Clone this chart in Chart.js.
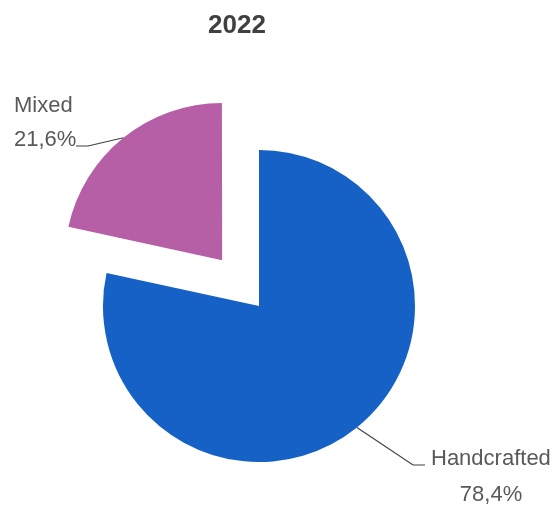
<!DOCTYPE html>
<html>
<head>
<meta charset="utf-8">
<script src="https://cdn.jsdelivr.net/npm/chart.js@4"></script>
<style>
  html, body { margin: 0; padding: 0; background: #ffffff; }
  #wrap { width: 553px; height: 506px; position: relative; }
</style>
</head>
<body>
<div id="wrap"><canvas id="c" width="553" height="506"></canvas></div>
<script>
// Share of production method, 2022
const categories = ['Handcrafted', 'Mixed'];
const shares = [78.4, 21.6];
const valueLabels = ['78,4%', '21,6%'];
const titleText = '2022';

const sliceColors = ['#1561C6', '#B65FA6'];
// Chart.js arcs move by roughly offset/4 pixels, so 235 pulls the slice ~60px out
const sliceOffsets = [0, 235];

// Label layout: elbow of the leader line, its end, and text anchors
const labelLayout = [
  { elbow: [413, 465], end: [425, 465], name: [431, 465, 'left'], value: [491, 501, 'center'] },
  { elbow: [88, 146],  end: [76, 146],  name: [14, 112, 'left'],  value: [14, 146, 'left'] }
];

const FONT = '"Liberation Sans", Arial, sans-serif';

const titlePlugin = {
  id: 'yearTitle',
  afterDraw(chart) {
    const ctx = chart.ctx;
    ctx.save();
    ctx.font = 'bold 26px ' + FONT;
    ctx.fillStyle = '#404040';
    ctx.textAlign = 'center';
    ctx.textBaseline = 'alphabetic';
    ctx.fillText(titleText, 237, 33);
    ctx.restore();
  }
};

// Same displacement that ArcElement.draw applies for its offset option
function arcShift(offset, circumference) {
  const base = (offset || 0) / 4;
  const fix = 1 - Math.sin(Math.min(Math.PI, circumference || 0));
  return base + base * fix;
}

const leaderLabels = {
  id: 'leaderLabels',
  afterDatasetsDraw(chart) {
    const ctx = chart.ctx;
    const meta = chart.getDatasetMeta(0);
    ctx.save();
    meta.data.forEach((arc, i) => {
      const p = arc.getProps(['x', 'y', 'startAngle', 'endAngle', 'outerRadius', 'circumference'], true);
      const mid = (p.startAngle + p.endAngle) / 2;
      const shift = arcShift(arc.options.offset, p.circumference);
      const cx = p.x + Math.cos(mid) * shift;
      const cy = p.y + Math.sin(mid) * shift;
      const sx = cx + Math.cos(mid) * p.outerRadius;
      const sy = cy + Math.sin(mid) * p.outerRadius;
      const L = labelLayout[i];
      ctx.strokeStyle = '#404040';
      ctx.lineWidth = 1.2;
      ctx.beginPath();
      ctx.moveTo(sx, sy);
      ctx.lineTo(L.elbow[0], L.elbow[1]);
      ctx.lineTo(L.end[0], L.end[1]);
      ctx.stroke();

      ctx.fillStyle = '#595959';
      ctx.font = '22px ' + FONT;
      ctx.textBaseline = 'alphabetic';
      ctx.textAlign = L.name[2];
      ctx.fillText(categories[i], L.name[0], L.name[1]);
      ctx.textAlign = L.value[2];
      ctx.fillText(valueLabels[i], L.value[0], L.value[1]);
    });
    ctx.restore();
  }
};

new Chart(document.getElementById('c'), {
  type: 'pie',
  data: {
    labels: categories,
    datasets: [{
      data: shares,
      backgroundColor: sliceColors,
      borderWidth: 0,
      offset: sliceOffsets
    }]
  },
  options: {
    responsive: false,
    animation: false,
    radius: 156,
    layout: { padding: { left: 0, right: 35, top: 106, bottom: 0 } },
    plugins: {
      legend: { display: false },
      title: { display: false },
      tooltip: { enabled: false }
    }
  },
  plugins: [titlePlugin, leaderLabels]
});
</script>
</body>
</html>
